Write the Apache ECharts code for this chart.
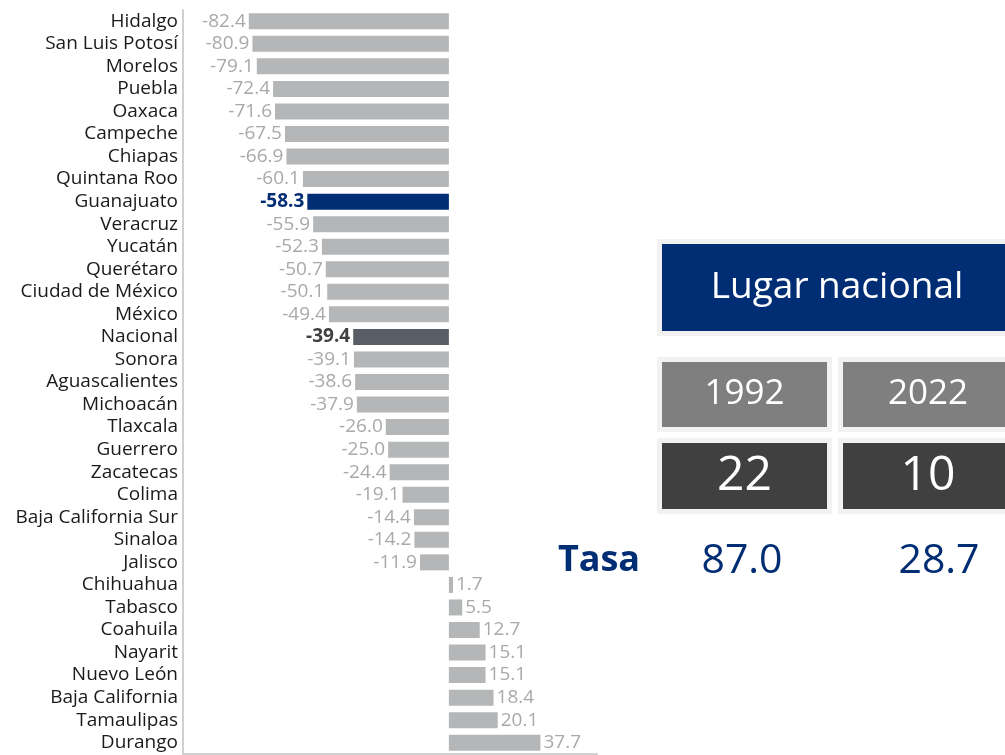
<!DOCTYPE html>
<html>
<head>
<meta charset="utf-8">
<script src="https://cdn.jsdelivr.net/npm/echarts@6/dist/echarts.min.js"></script>
<style>
  html, body { margin: 0; padding: 0; background: #fff; }
  #main { width: 1005px; height: 755px; }
</style>
</head>
<body>
<div id="main"></div>
<script>
// states ordered top to bottom
const states = [
  'Hidalgo', 'San Luis Potosí', 'Morelos', 'Puebla', 'Oaxaca', 'Campeche', 'Chiapas',
  'Quintana Roo', 'Guanajuato', 'Veracruz', 'Yucatán', 'Querétaro', 'Ciudad de México',
  'México', 'Nacional', 'Sonora', 'Aguascalientes', 'Michoacán', 'Tlaxcala', 'Guerrero',
  'Zacatecas', 'Colima', 'Baja California Sur', 'Sinaloa', 'Jalisco', 'Chihuahua',
  'Tabasco', 'Coahuila', 'Nayarit', 'Nuevo León', 'Baja California', 'Tamaulipas', 'Durango'
];
const changes = [
  -82.4, -80.9, -79.1, -72.4, -71.6, -67.5, -66.9,
  -60.1, -58.3, -55.9, -52.3, -50.7, -50.1,
  -49.4, -39.4, -39.1, -38.6, -37.9, -26.0, -25.0,
  -24.4, -19.1, -14.4, -14.2, -11.9, 1.7,
  5.5, 12.7, 15.1, 15.1, 18.4, 20.1, 37.7
];

// side panel
const years = ['1992', '2022'];
const ranks = ['22', '10'];
const rates = ['87.0', '28.7'];

const BLUE = '#002d74';
const NAT = '#595d66';
const GREY = '#b4b6b7';
const FONT = '"Open Sans"';

const barData = changes.map(function (v, i) {
  const name = states[i];
  let color = GREY, txt = '#a9a9a9', weight = 'normal';
  if (name === 'Guanajuato') { color = BLUE; txt = BLUE; weight = 'bold'; }
  if (name === 'Nacional') { color = NAT; txt = '#404040'; weight = 'bold'; }
  return {
    value: v,
    itemStyle: { color: color },
    label: {
      position: v < 0 ? 'left' : 'right',
      color: txt,
      fontWeight: weight
    }
  };
});

function box(x, y, w, h, fill, text, size) {
  return [
    { type: 'rect', shape: { x: x - 5, y: y - 5, width: w + 10, height: h + 10 }, style: { fill: '#f2f2f2' } },
    { type: 'rect', shape: { x: x, y: y, width: w, height: h }, style: { fill: fill } },
    { type: 'text', x: x + w / 2, y: y + h / 2, style: {
        text: text, fill: '#fff', font: size + 'px ' + FONT, align: 'center', verticalAlign: 'middle' } }
  ];
}

let graphics = [];
graphics = graphics.concat(box(662, 244, 350, 87, BLUE, 'Lugar nacional', 37));
graphics = graphics.concat(box(662, 362, 165, 65, '#7f7f7f', years[0], 35));
graphics = graphics.concat(box(843, 362, 170, 65, '#7f7f7f', years[1], 35));
graphics = graphics.concat(box(662, 443, 165, 66, '#404040', ranks[0], 48));
graphics = graphics.concat(box(843, 443, 170, 66, '#404040', ranks[1], 48));
graphics.push({ type: 'text', x: 599, y: 561, style: {
  text: 'Tasa', fill: BLUE, font: 'bold 36px ' + FONT, align: 'center', verticalAlign: 'middle' } });
graphics.push({ type: 'text', x: 742, y: 561, style: {
  text: rates[0], fill: BLUE, font: '41px ' + FONT, align: 'center', verticalAlign: 'middle' } });
graphics.push({ type: 'text', x: 939, y: 561, style: {
  text: rates[1], fill: BLUE, font: '41px ' + FONT, align: 'center', verticalAlign: 'middle' } });

const chart = echarts.init(document.getElementById('main'));
chart.setOption({
  animation: false,
  textStyle: { fontFamily: 'Open Sans' },
  grid: { left: 183, right: 408, top: 10, bottom: 1 },
  xAxis: {
    type: 'value',
    min: -109.5,
    max: 61,
    axisLine: { show: true, onZero: false, lineStyle: { color: '#d0d0d0', width: 2 } },
    axisTick: { show: false },
    axisLabel: { show: false },
    splitLine: { show: false }
  },
  yAxis: {
    type: 'category',
    inverse: true,
    data: states,
    axisLine: { show: true, onZero: false, lineStyle: { color: '#d0d0d0', width: 2 } },
    axisTick: { show: false },
    axisLabel: { color: '#1a1a1a', fontSize: 19, fontFamily: 'Open Sans', margin: 5, interval: 0 }
  },
  series: [{
    type: 'bar',
    data: barData,
    barWidth: 16,
    label: { show: true, fontSize: 19, fontFamily: 'Open Sans', distance: 3,
      formatter: function (p) { return p.value.toFixed(1); } }
  }],
  graphic: graphics
});
</script>
</body>
</html>
